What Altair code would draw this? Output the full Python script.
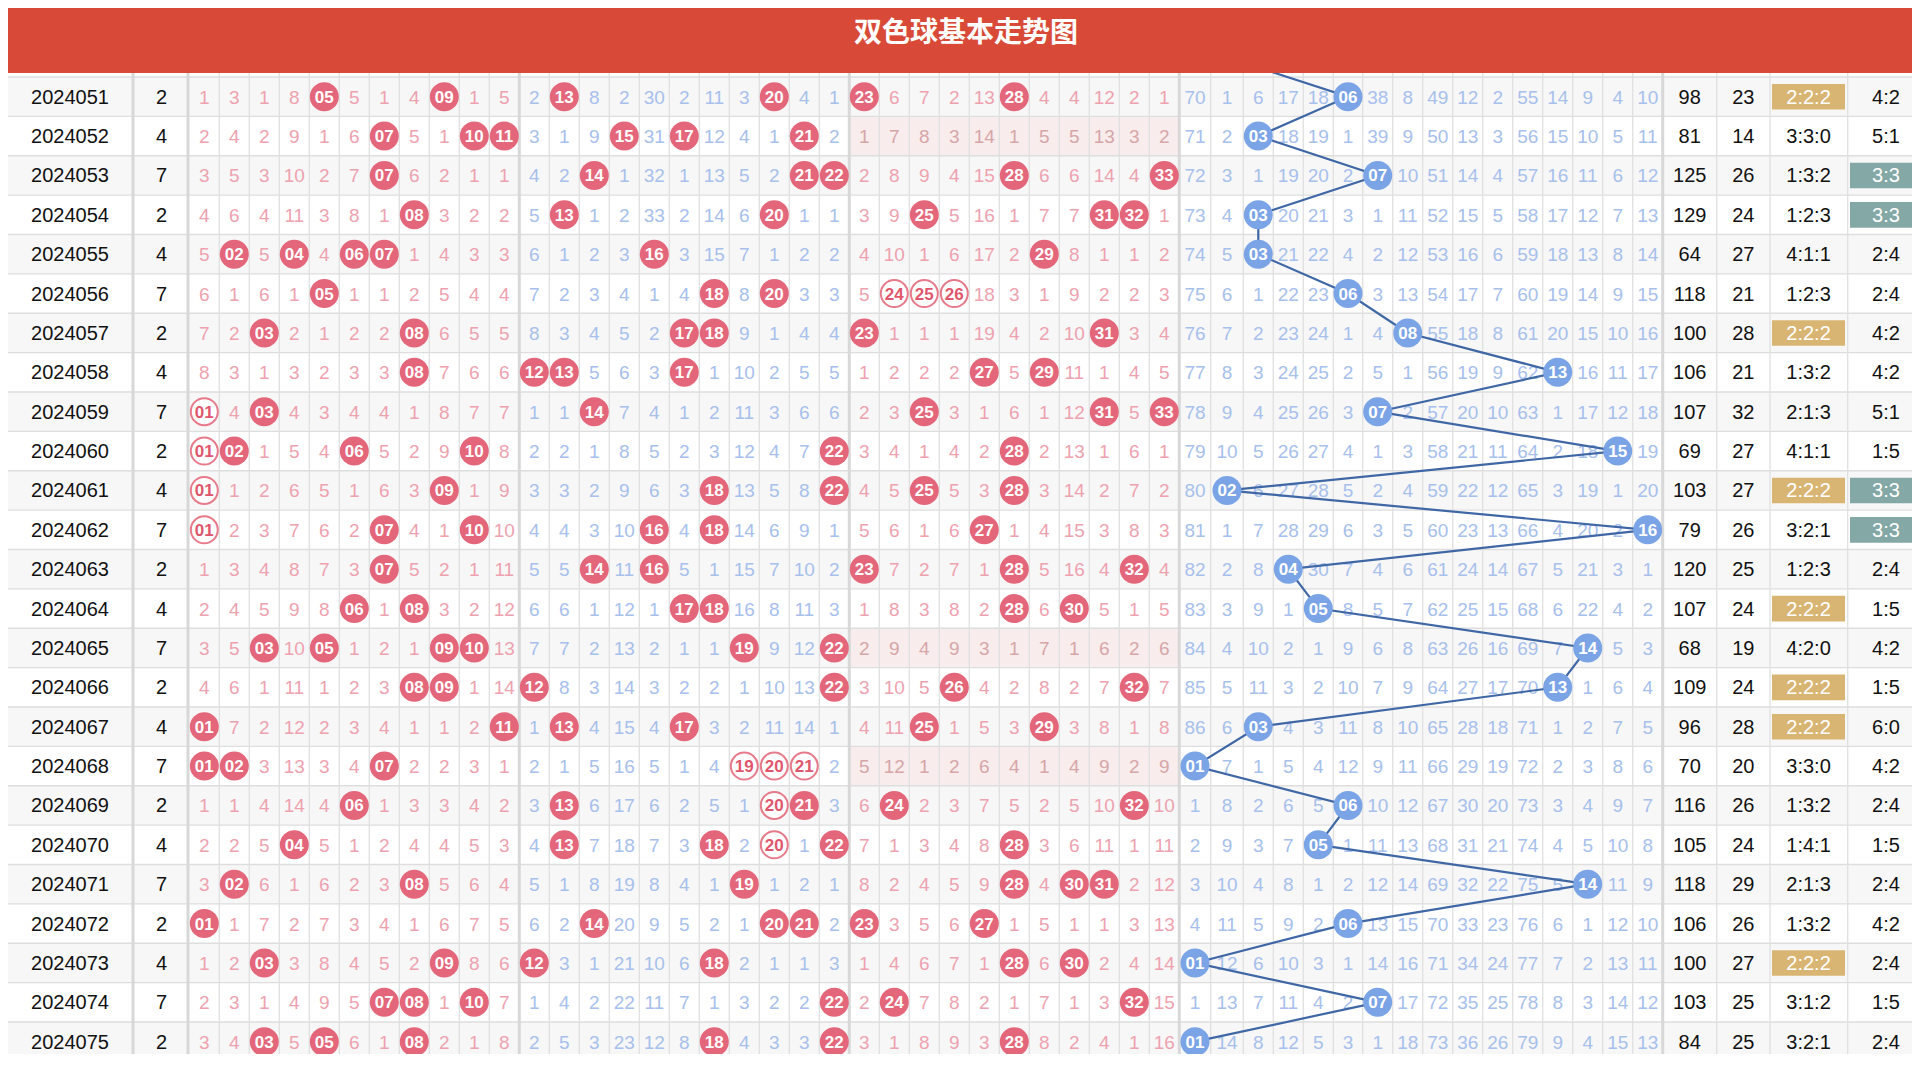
import altair as alt
import pandas as pd

# ---------------- data ----------------
ISSUES = ["2024051", "2024052", "2024053", "2024054", "2024055", "2024056", "2024057",
          "2024058", "2024059", "2024060", "2024061", "2024062", "2024063", "2024064",
          "2024065", "2024066", "2024067", "2024068", "2024069", "2024070", "2024071",
          "2024072", "2024073", "2024074", "2024075"]
DIGIT = [2, 4, 7, 2, 4, 7, 2, 4, 7, 2, 4, 7, 2, 4, 7, 2, 4, 7, 2, 4, 7, 2, 4, 7, 2]

# red-ball omission counts, columns 01..33 (0 = drawn that issue)
RED_MISS = [
    [1, 3, 1, 8, 0, 5, 1, 4, 0, 1, 5, 2, 0, 8, 2, 30, 2, 11, 3, 0, 4, 1, 0, 6, 7, 2, 13, 0, 4, 4, 12, 2, 1],
    [2, 4, 2, 9, 1, 6, 0, 5, 1, 0, 0, 3, 1, 9, 0, 31, 0, 12, 4, 1, 0, 2, 1, 7, 8, 3, 14, 1, 5, 5, 13, 3, 2],
    [3, 5, 3, 10, 2, 7, 0, 6, 2, 1, 1, 4, 2, 0, 1, 32, 1, 13, 5, 2, 0, 0, 2, 8, 9, 4, 15, 0, 6, 6, 14, 4, 0],
    [4, 6, 4, 11, 3, 8, 1, 0, 3, 2, 2, 5, 0, 1, 2, 33, 2, 14, 6, 0, 1, 1, 3, 9, 0, 5, 16, 1, 7, 7, 0, 0, 1],
    [5, 0, 5, 0, 4, 0, 0, 1, 4, 3, 3, 6, 1, 2, 3, 0, 3, 15, 7, 1, 2, 2, 4, 10, 1, 6, 17, 2, 0, 8, 1, 1, 2],
    [6, 1, 6, 1, 0, 1, 1, 2, 5, 4, 4, 7, 2, 3, 4, 1, 4, 0, 8, 0, 3, 3, 5, 0, 0, 0, 18, 3, 1, 9, 2, 2, 3],
    [7, 2, 0, 2, 1, 2, 2, 0, 6, 5, 5, 8, 3, 4, 5, 2, 0, 0, 9, 1, 4, 4, 0, 1, 1, 1, 19, 4, 2, 10, 0, 3, 4],
    [8, 3, 1, 3, 2, 3, 3, 0, 7, 6, 6, 0, 0, 5, 6, 3, 0, 1, 10, 2, 5, 5, 1, 2, 2, 2, 0, 5, 0, 11, 1, 4, 5],
    [0, 4, 0, 4, 3, 4, 4, 1, 8, 7, 7, 1, 1, 0, 7, 4, 1, 2, 11, 3, 6, 6, 2, 3, 0, 3, 1, 6, 1, 12, 0, 5, 0],
    [0, 0, 1, 5, 4, 0, 5, 2, 9, 0, 8, 2, 2, 1, 8, 5, 2, 3, 12, 4, 7, 0, 3, 4, 1, 4, 2, 0, 2, 13, 1, 6, 1],
    [0, 1, 2, 6, 5, 1, 6, 3, 0, 1, 9, 3, 3, 2, 9, 6, 3, 0, 13, 5, 8, 0, 4, 5, 0, 5, 3, 0, 3, 14, 2, 7, 2],
    [0, 2, 3, 7, 6, 2, 0, 4, 1, 0, 10, 4, 4, 3, 10, 0, 4, 0, 14, 6, 9, 1, 5, 6, 1, 6, 0, 1, 4, 15, 3, 8, 3],
    [1, 3, 4, 8, 7, 3, 0, 5, 2, 1, 11, 5, 5, 0, 11, 0, 5, 1, 15, 7, 10, 2, 0, 7, 2, 7, 1, 0, 5, 16, 4, 0, 4],
    [2, 4, 5, 9, 8, 0, 1, 0, 3, 2, 12, 6, 6, 1, 12, 1, 0, 0, 16, 8, 11, 3, 1, 8, 3, 8, 2, 0, 6, 0, 5, 1, 5],
    [3, 5, 0, 10, 0, 1, 2, 1, 0, 0, 13, 7, 7, 2, 13, 2, 1, 1, 0, 9, 12, 0, 2, 9, 4, 9, 3, 1, 7, 1, 6, 2, 6],
    [4, 6, 1, 11, 1, 2, 3, 0, 0, 1, 14, 0, 8, 3, 14, 3, 2, 2, 1, 10, 13, 0, 3, 10, 5, 0, 4, 2, 8, 2, 7, 0, 7],
    [0, 7, 2, 12, 2, 3, 4, 1, 1, 2, 0, 1, 0, 4, 15, 4, 0, 3, 2, 11, 14, 1, 4, 11, 0, 1, 5, 3, 0, 3, 8, 1, 8],
    [0, 0, 3, 13, 3, 4, 0, 2, 2, 3, 1, 2, 1, 5, 16, 5, 1, 4, 0, 0, 0, 2, 5, 12, 1, 2, 6, 4, 1, 4, 9, 2, 9],
    [1, 1, 4, 14, 4, 0, 1, 3, 3, 4, 2, 3, 0, 6, 17, 6, 2, 5, 1, 0, 0, 3, 6, 0, 2, 3, 7, 5, 2, 5, 10, 0, 10],
    [2, 2, 5, 0, 5, 1, 2, 4, 4, 5, 3, 4, 0, 7, 18, 7, 3, 0, 2, 0, 1, 0, 7, 1, 3, 4, 8, 0, 3, 6, 11, 1, 11],
    [3, 0, 6, 1, 6, 2, 3, 0, 5, 6, 4, 5, 1, 8, 19, 8, 4, 1, 0, 1, 2, 1, 8, 2, 4, 5, 9, 0, 4, 0, 0, 2, 12],
    [0, 1, 7, 2, 7, 3, 4, 1, 6, 7, 5, 6, 2, 0, 20, 9, 5, 2, 1, 0, 0, 2, 0, 3, 5, 6, 0, 1, 5, 1, 1, 3, 13],
    [1, 2, 0, 3, 8, 4, 5, 2, 0, 8, 6, 0, 3, 1, 21, 10, 6, 0, 2, 1, 1, 3, 1, 4, 6, 7, 1, 0, 6, 0, 2, 4, 14],
    [2, 3, 1, 4, 9, 5, 0, 0, 1, 0, 7, 1, 4, 2, 22, 11, 7, 1, 3, 2, 2, 0, 2, 0, 7, 8, 2, 1, 7, 1, 3, 0, 15],
    [3, 4, 0, 5, 0, 6, 1, 0, 2, 1, 8, 2, 5, 3, 23, 12, 8, 0, 4, 3, 3, 0, 3, 1, 8, 9, 3, 0, 8, 2, 4, 1, 16],
]

# blue-ball omission counts, columns 01..16 (0 = drawn)
BLUE_MISS = [
    [70, 1, 6, 17, 18, 0, 38, 8, 49, 12, 2, 55, 14, 9, 4, 10],
    [71, 2, 0, 18, 19, 1, 39, 9, 50, 13, 3, 56, 15, 10, 5, 11],
    [72, 3, 1, 19, 20, 2, 0, 10, 51, 14, 4, 57, 16, 11, 6, 12],
    [73, 4, 0, 20, 21, 3, 1, 11, 52, 15, 5, 58, 17, 12, 7, 13],
    [74, 5, 0, 21, 22, 4, 2, 12, 53, 16, 6, 59, 18, 13, 8, 14],
    [75, 6, 1, 22, 23, 0, 3, 13, 54, 17, 7, 60, 19, 14, 9, 15],
    [76, 7, 2, 23, 24, 1, 4, 0, 55, 18, 8, 61, 20, 15, 10, 16],
    [77, 8, 3, 24, 25, 2, 5, 1, 56, 19, 9, 62, 0, 16, 11, 17],
    [78, 9, 4, 25, 26, 3, 0, 2, 57, 20, 10, 63, 1, 17, 12, 18],
    [79, 10, 5, 26, 27, 4, 1, 3, 58, 21, 11, 64, 2, 18, 0, 19],
    [80, 0, 6, 27, 28, 5, 2, 4, 59, 22, 12, 65, 3, 19, 1, 20],
    [81, 1, 7, 28, 29, 6, 3, 5, 60, 23, 13, 66, 4, 20, 2, 0],
    [82, 2, 8, 0, 30, 7, 4, 6, 61, 24, 14, 67, 5, 21, 3, 1],
    [83, 3, 9, 1, 0, 8, 5, 7, 62, 25, 15, 68, 6, 22, 4, 2],
    [84, 4, 10, 2, 1, 9, 6, 8, 63, 26, 16, 69, 7, 0, 5, 3],
    [85, 5, 11, 3, 2, 10, 7, 9, 64, 27, 17, 70, 0, 1, 6, 4],
    [86, 6, 0, 4, 3, 11, 8, 10, 65, 28, 18, 71, 1, 2, 7, 5],
    [0, 7, 1, 5, 4, 12, 9, 11, 66, 29, 19, 72, 2, 3, 8, 6],
    [1, 8, 2, 6, 5, 0, 10, 12, 67, 30, 20, 73, 3, 4, 9, 7],
    [2, 9, 3, 7, 0, 1, 11, 13, 68, 31, 21, 74, 4, 5, 10, 8],
    [3, 10, 4, 8, 1, 2, 12, 14, 69, 32, 22, 75, 5, 0, 11, 9],
    [4, 11, 5, 9, 2, 0, 13, 15, 70, 33, 23, 76, 6, 1, 12, 10],
    [0, 12, 6, 10, 3, 1, 14, 16, 71, 34, 24, 77, 7, 2, 13, 11],
    [1, 13, 7, 11, 4, 2, 0, 17, 72, 35, 25, 78, 8, 3, 14, 12],
    [0, 14, 8, 12, 5, 3, 1, 18, 73, 36, 26, 79, 9, 4, 15, 13],
]
PREV_BLUE = 2  # blue ball of the issue just above the visible rows (partly hidden)

# red balls drawn as outlined rings: (row, ball)
RED_HOLLOW = [(5, 24), (5, 25), (5, 26), (8, 1), (9, 1), (10, 1), (11, 1),
              (17, 19), (17, 20), (17, 21), (18, 20), (19, 20)]

SUMS = [98, 81, 125, 129, 64, 118, 100, 106, 107, 69, 103, 79, 120, 107, 68, 109, 96, 70,
        116, 105, 118, 106, 100, 103, 84]
SPANS = [23, 14, 26, 24, 27, 21, 28, 21, 32, 27, 27, 26, 25, 24, 19, 24, 28, 20, 26, 24,
         29, 26, 27, 25, 25]
ZONES = ["2:2:2", "3:3:0", "1:3:2", "1:2:3", "4:1:1", "1:2:3", "2:2:2", "1:3:2", "2:1:3",
         "4:1:1", "2:2:2", "3:2:1", "1:2:3", "2:2:2", "4:2:0", "2:2:2", "2:2:2", "3:3:0",
         "1:3:2", "1:4:1", "2:1:3", "1:3:2", "2:2:2", "3:1:2", "3:2:1"]
ODDEVEN = ["4:2", "5:1", "3:3", "3:3", "2:4", "2:4", "4:2", "4:2", "5:1", "1:5", "3:3", "3:3",
           "2:4", "1:5", "4:2", "1:5", "6:0", "4:2", "2:4", "1:5", "2:4", "4:2", "2:4", "1:5",
           "2:4"]
TITLE = "双色球基本走势图"

# ---------------- layout (page pixels) ----------------
W, H = 1904, 1046
OX, OY = 8, 8
ROW0_Y, ROW_H = 96.7, 39.375
TABLE_L, TABLE_R = 7, 1930
ISSUE_X, DIGIT_X = 70, 161.5
RED_X0, RED_W = 189.3, 30.0
ZONE_EDGES = [189.3, 519.3, 849.3, 1179.3]
BLUE_EDGES = [1179.3, 1210.7, 1243.3, 1273.3, 1303.3, 1333.3, 1362.7, 1392.7, 1422.7,
              1452.7, 1482.7, 1512.7, 1542.7, 1572.7, 1602.7, 1632.7, 1662.7]
STAT_X = [1689.7, 1743.3, 1808.5, 1886.0]
THICK_X = [133, 188, 519.3, 849.3, 1179.3, 1662.7]
THIN_X = [TABLE_L, 1716.7, 1770, 1847.7]
GOLD_X = (1772, 1845)
TEAL_X = (1850, 1930)
BOX_HALF = 12.8 / ROW_H
BAR_H = 73

FONT = "Liberation Sans"
PINK, BLUE_T, SHADE_T = "#eea2af", "#a7c0ec", "#d6a6a8"
RED_BALL, BLUE_BALL = "#e4667a", "#7ba4e6"

Y_TOP = (OY - ROW0_Y) / ROW_H
Y_BOT = (OY + H - ROW0_Y) / ROW_H
XS = alt.Scale(domain=[OX, OX + W], nice=False, zero=False)
YS = alt.Scale(domain=[Y_TOP, Y_BOT], nice=False, zero=False, reverse=True)


def red_x(k):
    return RED_X0 + RED_W * (k - 0.5)


def blue_x(j):
    return (BLUE_EDGES[j - 1] + BLUE_EDGES[j]) / 2


def X(f):
    return alt.X(f"{f}:Q", scale=XS, axis=None)


def Y(f):
    return alt.Y(f"{f}:Q", scale=YS, axis=None)


N = len(ISSUES)

# ---------------- build tables ----------------
stripes = pd.DataFrame([{"x1": TABLE_L, "x2": TABLE_R, "y1": r - 0.5, "y2": r + 0.5,
                         "fill": "#f7f7f7" if r % 2 == 0 else "#ffffff"}
                        for r in range(-3, N + 2)])

shade_rows = []
for r, z in enumerate(ZONES):
    for zi, c in enumerate(z.split(":")):
        if c == "0":
            shade_rows.append({"x1": ZONE_EDGES[zi], "x2": ZONE_EDGES[zi + 1],
                               "y1": r - 0.5, "y2": r + 0.5, "fill": "#f8ecec"})
shade = pd.DataFrame(shade_rows)
shaded = {(row["y1"] + 0.5, zi) for row in shade_rows
          for zi in range(3) if abs(row["x1"] - ZONE_EDGES[zi]) < 0.1}

hlines = pd.DataFrame([{"y": r - 0.5, "x1": TABLE_L, "x2": TABLE_R} for r in range(-2, N + 1)])
thin_v = THIN_X + [RED_X0 + RED_W * k for k in range(1, 33) if k not in (11, 22)] + BLUE_EDGES[1:-1]
vthin = pd.DataFrame([{"x": x, "y1": Y_TOP, "y2": Y_BOT} for x in thin_v])
vthick = pd.DataFrame([{"x": x, "y1": Y_TOP, "y2": Y_BOT} for x in THICK_X])

boxes = []
for r in range(N):
    if ZONES[r] == "2:2:2":
        boxes.append({"x1": GOLD_X[0], "x2": GOLD_X[1], "y1": r - BOX_HALF, "y2": r + BOX_HALF,
                      "fill": "#d9b574"})
    if ODDEVEN[r] == "3:3":
        boxes.append({"x1": TEAL_X[0], "x2": TEAL_X[1], "y1": r - BOX_HALF, "y2": r + BOX_HALF,
                      "fill": "#84a8a6"})
boxes = pd.DataFrame(boxes)

texts = []
hollow = set(RED_HOLLOW)
red_full, red_ring, blue_balls = [], [], []
for r in range(N):
    texts.append({"x": ISSUE_X, "y": r, "t": ISSUES[r], "c": "#111111", "s": 20})
    texts.append({"x": DIGIT_X, "y": r, "t": str(DIGIT[r]), "c": "#111111", "s": 20})
    for k in range(1, 34):
        v = RED_MISS[r][k - 1]
        zi = (k - 1) // 11
        if v == 0:
            item = {"x": red_x(k), "y": r, "t": f"{k:02d}"}
            (red_ring if (r, k) in hollow else red_full).append(item)
        else:
            if (r, zi) in shaded:
                col = SHADE_T
            else:
                col = BLUE_T if zi == 1 else PINK
            texts.append({"x": red_x(k), "y": r, "t": str(v), "c": col, "s": 19})
    for j in range(1, 17):
        v = BLUE_MISS[r][j - 1]
        if v == 0:
            blue_balls.append({"x": blue_x(j), "y": r, "t": f"{j:02d}"})
        else:
            texts.append({"x": blue_x(j), "y": r, "t": str(v), "c": BLUE_T, "s": 19})
    stat_vals = [str(SUMS[r]), str(SPANS[r]), ZONES[r], ODDEVEN[r]]
    boxed = [False, False, ZONES[r] == "2:2:2", ODDEVEN[r] == "3:3"]
    for i in range(4):
        texts.append({"x": STAT_X[i], "y": r, "t": stat_vals[i],
                      "c": "#ffffff" if boxed[i] else "#111111", "s": 20})
texts = pd.DataFrame(texts)
red_full = pd.DataFrame(red_full)
red_ring = pd.DataFrame(red_ring)
blue_df = pd.DataFrame(blue_balls)

line_rows = [{"x": blue_x(PREV_BLUE), "y": -1}]
for r in range(N):
    j = BLUE_MISS[r].index(0) + 1
    line_rows.append({"x": blue_x(j), "y": r})
line_df = pd.DataFrame(line_rows)
prev_ball = pd.DataFrame([{"x": blue_x(PREV_BLUE), "y": -1, "t": f"{PREV_BLUE:02d}"}])

bar = pd.DataFrame([{"t": TITLE}])

# ---------------- layers ----------------
def rects(df):
    return alt.Chart(df).mark_rect(clip=True).encode(
        x=X("x1"), x2="x2", y=Y("y1"), y2="y2", color=alt.Color("fill:N", scale=None))


layers = [rects(stripes), rects(shade)]
layers.append(alt.Chart(hlines).mark_rule(color="#dedede", strokeWidth=1.3, clip=True).encode(
    y=Y("y"), x=X("x1"), x2="x2"))
layers.append(alt.Chart(vthin).mark_rule(color="#e0e0e0", strokeWidth=1.3, clip=True).encode(
    x=X("x"), y=Y("y1"), y2="y2"))
layers.append(alt.Chart(vthick).mark_rule(color="#d8d8d8", strokeWidth=3, clip=True).encode(
    x=X("x"), y=Y("y1"), y2="y2"))
layers.append(rects(boxes))
for size in (19, 20):
    layers.append(alt.Chart(texts[texts["s"] == size]).mark_text(
        font=FONT, fontSize=size, align="center", baseline="middle", dy=1, clip=True).encode(
        x=X("x"), y=Y("y"), text="t:N", color=alt.Color("c:N", scale=None)))
layers.append(alt.Chart(line_df).mark_line(color="#3f67a5", strokeWidth=2.2, clip=True).encode(
    x=X("x"), y=Y("y"), order=alt.Order("y:Q")))
layers.append(alt.Chart(red_full).mark_circle(size=841, color=RED_BALL, opacity=1, clip=True).encode(
    x=X("x"), y=Y("y")))
layers.append(alt.Chart(red_ring).mark_circle(size=729, fill="#ffffff", stroke="#e77a8a",
                                              strokeWidth=2, opacity=1, clip=True).encode(
    x=X("x"), y=Y("y")))
blue_all = pd.concat([prev_ball, blue_df], ignore_index=True)
layers.append(alt.Chart(blue_all).mark_circle(size=841, color=BLUE_BALL, opacity=1, clip=True).encode(
    x=X("x"), y=Y("y")))
for df, col in ((red_full, "#ffffff"), (red_ring, "#e0566c"), (blue_all, "#ffffff")):
    layers.append(alt.Chart(df).mark_text(font=FONT, fontSize=17, fontWeight="bold",
                                          align="center", baseline="middle", dy=1,
                                          color=col, clip=True).encode(
        x=X("x"), y=Y("y"), text="t:N"))
layers.append(alt.Chart(bar).mark_rect(color="#d84a37").encode(
    x=alt.value(0), x2=alt.value(W), y=alt.value(0), y2=alt.value(BAR_H - OY)))
layers.append(alt.Chart(bar).mark_text(font="Noto Sans CJK SC", fontSize=28, fontWeight="bold",
                                       color="#ffffff", align="center", baseline="middle").encode(
    x=alt.value(966 - OX), y=alt.value(34 - OY), text="t:N"))

chart = alt.layer(*layers).properties(
    width=W, height=H, padding=0, autosize=alt.AutoSizeParams(type="none")
).configure_view(strokeWidth=0)

chart.save("out.html", embed_options={"renderer": "svg", "actions": False})
